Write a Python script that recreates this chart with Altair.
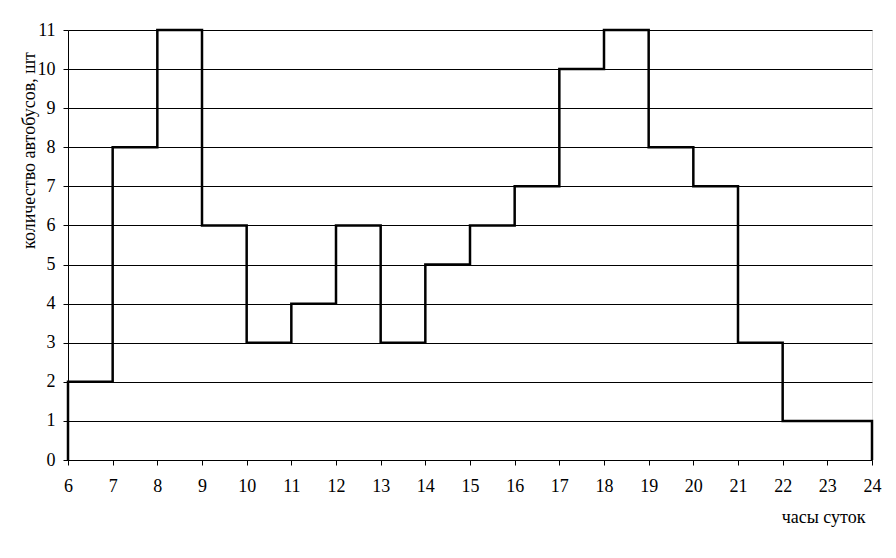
import altair as alt
import pandas as pd

hours = list(range(6, 24))
buses = [2, 8, 11, 6, 3, 4, 6, 3, 5, 6, 7, 10, 11, 8, 7, 3, 1, 1]
x_ticks = list(range(6, 25))
y_ticks = list(range(0, 12))

# step path built from the hourly counts
xs = [hours[0]] + hours + [hours[-1] + 1, hours[-1] + 1]
ys = [0] + buses + [buses[-1], 0]
df = pd.DataFrame({"hour": xs, "count": ys, "order": list(range(len(xs)))})

FONT = "Liberation Serif"

chart = alt.Chart(df).mark_line(
    interpolate="step-after", color="black", strokeWidth=2.5
).encode(
    x=alt.X(
        "hour:Q",
        scale=alt.Scale(domain=[6, 24], nice=False, zero=False),
        axis=alt.Axis(
            values=x_ticks, title="часы суток", grid=False,
            labelFont=FONT, labelFontSize=18, labelColor="black",
            labelPadding=12, tickSize=5, tickColor="black",
            domainColor="black", labelFontWeight="normal",
            titleFont=FONT, titleFontSize=18, titleFontWeight="normal",
            titleColor="black", titleAnchor="end", titleAlign="right",
            titleX=797, titleY=62, titleBaseline="alphabetic",
            labelFlush=False,
        ),
    ),
    y=alt.Y(
        "count:Q",
        scale=alt.Scale(domain=[0, 11], nice=False),
        axis=alt.Axis(
            values=y_ticks, title="количество автобусов, шт", grid=True,
            gridColor="black", gridWidth=1, gridOpacity=1,
            labelFont=FONT, labelFontSize=18, labelColor="black",
            labelPadding=8, tickSize=5, tickColor="black",
            domainColor="black", titleFont=FONT, titleFontSize=18,
            titleFontWeight="normal", titleColor="black",
            titleX=-39, titleY=120, titleAlign="center",
            titleBaseline="middle", titleAngle=270,
        ),
    ),
    order="order:Q",
).properties(
    width=804, height=430,
    autosize=alt.AutoSizeParams(type="none"),
    padding={"left": 60, "top": 22, "right": 16, "bottom": 90},
).configure_view(
    stroke="black", strokeWidth=1
).configure(background="white")

chart.save("out.html", embed_options={"renderer": "svg", "actions": False})
